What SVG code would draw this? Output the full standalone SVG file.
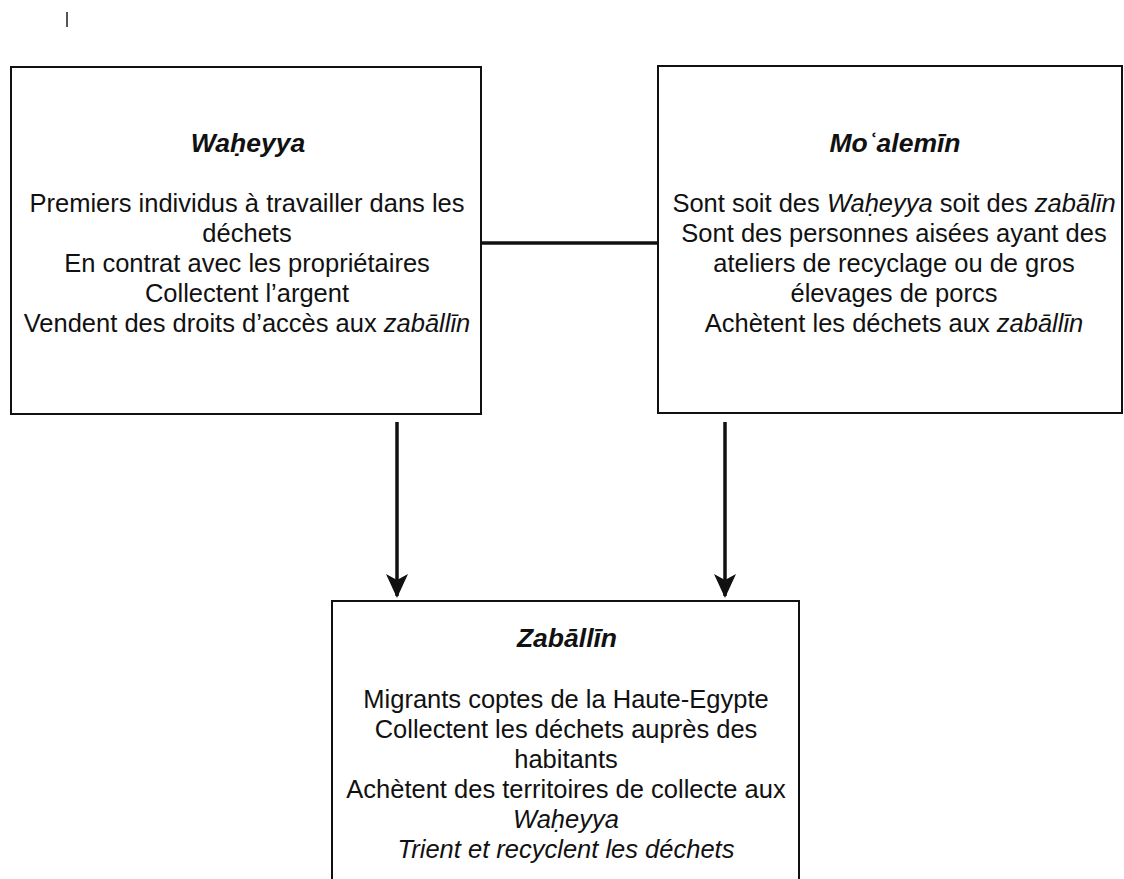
<svg xmlns="http://www.w3.org/2000/svg" width="1124" height="879" viewBox="0 0 1124 879">
<style>
.box{fill:#fff;stroke:#111;stroke-width:2}
.t{font-family:"Liberation Sans",Arial,sans-serif;font-size:25.5px;fill:#111;text-anchor:middle}
.h{font-weight:bold;font-style:italic;font-size:26.5px}
.i{font-style:italic}
.conn{stroke:#111;stroke-width:3.5;fill:none}
</style>
<rect width="1124" height="879" fill="#fff"/>
<rect x="66" y="12" width="2" height="15" fill="#555"/>
<g id="connectors">
<line class="conn" x1="481" y1="243" x2="658" y2="243"/>
<line class="conn" x1="397" y1="422" x2="397" y2="596"/>
<path d="M386,574 L397,580 L408,574 L397,598 Z" fill="#111"/>
<line class="conn" x1="725" y1="422" x2="725" y2="596"/>
<path d="M714,574 L725,580 L736,574 L725,598 Z" fill="#111"/>
</g>
<g id="waheyya">
<rect class="box" x="11" y="67" width="470" height="347"/>
<text class="t h" x="248" y="152">Waḥeyya</text>
<text class="t" x="247" y="212">Premiers individus à travailler dans les</text>
<text class="t" x="247" y="242">déchets</text>
<text class="t" x="247" y="272">En contrat avec les propriétaires</text>
<text class="t" x="247" y="302">Collectent l’argent</text>
<text class="t" x="247" y="332">Vendent des droits d’accès aux <tspan class="i">zabāllīn</tspan></text>
</g>
<g id="moalemin">
<rect class="box" x="658" y="66" width="464" height="347"/>
<text class="t h" x="895" y="152">Moʿalemīn</text>
<text class="t" x="894" y="212">Sont soit des <tspan class="i">Waḥeyya</tspan> soit des <tspan class="i">zabālīn</tspan></text>
<text class="t" x="894" y="242">Sont des personnes aisées ayant des</text>
<text class="t" x="894" y="272">ateliers de recyclage ou de gros</text>
<text class="t" x="894" y="302">élevages de porcs</text>
<text class="t" x="894" y="332">Achètent les déchets aux <tspan class="i">zabāllīn</tspan></text>
</g>
<g id="zaballin">
<rect class="box" x="332" y="601" width="467" height="300"/>
<text class="t h" x="567" y="647">Zabāllīn</text>
<text class="t" x="566" y="708">Migrants coptes de la Haute-Egypte</text>
<text class="t" x="566" y="738">Collectent les déchets auprès des</text>
<text class="t" x="566" y="768">habitants</text>
<text class="t" x="566" y="798">Achètent des territoires de collecte aux</text>
<text class="t i" x="566" y="828">Waḥeyya</text>
<text class="t i" x="566" y="858">Trient et recyclent les déchets</text>
</g>
</svg>
